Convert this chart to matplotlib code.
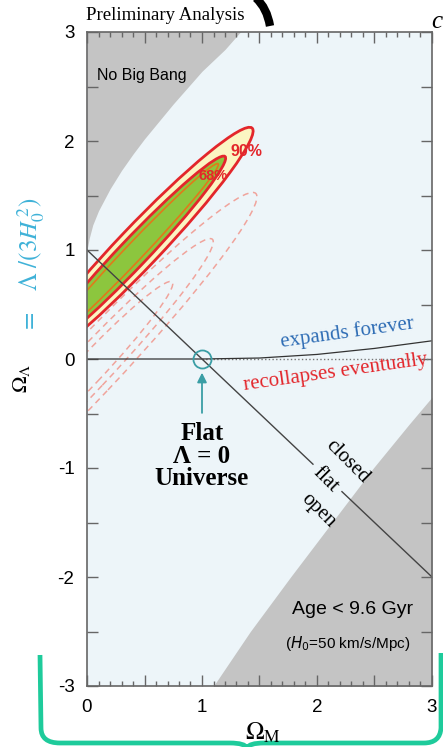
import numpy as np
import matplotlib.pyplot as plt
from matplotlib.patches import Ellipse, PathPatch
from matplotlib.path import Path
from matplotlib.ticker import MultipleLocator, FuncFormatter

plt.rcParams['axes.unicode_minus'] = False
plt.rcParams['mathtext.fontset'] = 'stix'
plt.rcParams['font.family'] = ['Liberation Sans', 'DejaVu Sans']

W, H = 443, 747

# ---------------- data ----------------
# "No Big Bang" boundary (Omega_M, Omega_Lambda)
nobigbang_x = [0.0, 0.02, 0.05, 0.1, 0.2, 0.3, 0.4, 0.5, 0.75, 1.0, 1.2, 1.35]
nobigbang_y = [1.0, 1.11, 1.23, 1.36, 1.56, 1.73, 1.88, 2.02, 2.34, 2.64, 2.84, 3.02]

# "Age < 9.6 Gyr" boundary
age_x = [1.10, 1.42, 1.77, 2.13, 2.49, 2.80, 3.0]
age_y = [-3.0, -2.5, -2.0, -1.5, -1.0, -0.6, -0.35]

# expands forever / recollapses boundary
expand_x = [0.0, 1.0, 1.5, 2.0, 2.5, 3.0]
expand_y = [0.0, 0.0, 0.009, 0.042, 0.097, 0.167]

# flat universe line (with a gap for the labels)
flat_x1 = [0.0, 1.965]
flat_y1 = [1.0, -0.965]
flat_x2 = [2.217, 3.0]
flat_y2 = [-1.217, -2.0]

# solid confidence regions (90%, 68%, inner line): centre, length, thickness
solid_cx = [0.45, 0.40, 0.40]
solid_cy = [1.025, 0.969, 0.969]
solid_len = [2.944, 2.392, 2.212]
solid_wid = [0.369, 0.251, 0.159]
solid_angle = 48.0

# dashed confidence regions
dash_cx = [0.0, 0.0, 0.0]
dash_cy = [-0.12, -0.12, -0.12]
dash_len = [4.40, 3.27, 2.22]
dash_wid = [0.49, 0.36, 0.25]
dash_angle = 48.2

flat_point = (1.0, 0.0)

# ---------------- colours ----------------
bg = '#edf5f9'
grey = '#c4c4c4'
red = '#e3262b'
cream = '#fbf5c2'
green = '#8cc63e'
orange = '#e07a1a'
pink = '#f0a49c'
teal = '#3a9ea5'
blue = '#2f6db5'
cyan = '#3fb2d8'
brace_col = '#1ecb9b'
serif = ['Liberation Serif', 'DejaVu Serif']

fig = plt.figure(figsize=(W / 100, H / 100), dpi=100)
ax = fig.add_axes([87 / W, 1 - 686 / H, 345 / W, 654 / H])
ax.set_xlim(0, 3)
ax.set_ylim(-3, 3)
ax.set_facecolor(bg)

# grey excluded regions
ax.fill_between(nobigbang_x, nobigbang_y, 3.5, color=grey, lw=0, zorder=1)
ax.fill_between(age_x, age_y, -3.5, color=grey, lw=0, zorder=1)

# dashed contours
for cx, cy, ln, wd in zip(dash_cx, dash_cy, dash_len, dash_wid):
    e = Ellipse((cx, cy), ln, wd, angle=dash_angle, fill=False, ec=pink,
                lw=1.1, ls=(0, (4, 3)), zorder=2)
    ax.add_patch(e)

# solid contours
e90 = Ellipse((solid_cx[0], solid_cy[0]), solid_len[0], solid_wid[0], angle=solid_angle,
              fc=cream, ec=red, lw=2.0, zorder=3)
e68 = Ellipse((solid_cx[1], solid_cy[1]), solid_len[1], solid_wid[1], angle=solid_angle,
              fc=green, ec=red, lw=2.0, zorder=4)
ein = Ellipse((solid_cx[2], solid_cy[2]), solid_len[2], solid_wid[2], angle=solid_angle,
              fill=False, ec=orange, lw=1.2, zorder=5)
for p in (e90, e68, ein):
    ax.add_patch(p)

# lines
ax.plot([expand_x[1], expand_x[-1]], [0, 0], color='#777', lw=1.0, ls=':', zorder=6)
ax.plot(expand_x, expand_y, color='#333', lw=0.9, zorder=6)
ax.plot(flat_x1, flat_y1, color='#444', lw=1.0, zorder=6)
ax.plot(flat_x2, flat_y2, color='#444', lw=1.0, zorder=6)

ax.plot([flat_point[0]], [flat_point[1]], 'o', mfc='none', mec=teal, ms=13, mew=1.3, zorder=7)
ax.annotate('', xy=(flat_point[0], -0.1), xytext=(flat_point[0], -0.52),
            arrowprops=dict(arrowstyle='-|>', color=teal, lw=1.3, mutation_scale=14), zorder=7)

# texts inside
ax.text(0.087, 2.6, 'No Big Bang', fontsize=11.5, ha='left', va='center', zorder=8)
ax.text(1.39, 1.90, '90%', color=red, fontsize=11.5, fontweight='bold', ha='center', va='center', zorder=8)
ax.text(1.10, 1.68, '68%', color=red, fontsize=10.5, fontweight='bold', ha='center', va='center', zorder=8)
ax.text(2.26, 0.24, 'expands forever', color=blue, fontsize=15, family=serif,
        rotation=8, ha='center', va='center', zorder=8)
ax.text(2.16, -0.13, 'recollapses eventually', color=red, fontsize=15, family=serif,
        rotation=8, ha='center', va='center', zorder=8)
ax.text(1.0, -0.89, 'Flat\nΛ = 0\nUniverse', fontsize=18, family=serif, fontweight='bold',
        ha='center', va='center', linespacing=0.95, zorder=8)
ax.text(2.26, -0.945, 'closed', fontsize=15, family=serif, rotation=-45, ha='center', va='center', zorder=8)
ax.text(2.07, -1.11, 'flat', fontsize=15, family=serif, rotation=-45, ha='center', va='center', zorder=8)
ax.text(2.01, -1.39, 'open', fontsize=15, family=serif, rotation=-45, ha='center', va='center', zorder=8)
ax.text(2.31, -2.30, 'Age < 9.6 Gyr', fontsize=14, ha='center', va='center', zorder=8)
ax.text(2.27, -2.61, '($H_0$=50 km/s/Mpc)', fontsize=11, ha='center', va='center',
        math_fontfamily='dejavusans', zorder=8)

# ticks
ax.xaxis.set_major_locator(MultipleLocator(0.5))
ax.xaxis.set_minor_locator(MultipleLocator(0.1))
ax.yaxis.set_major_locator(MultipleLocator(0.5))
intfmt = FuncFormatter(lambda v, p: '%d' % round(v) if abs(v - round(v)) < 1e-6 else '')
ax.xaxis.set_major_formatter(intfmt)
ax.yaxis.set_major_formatter(intfmt)
ax.tick_params(which='both', direction='in', top=True, right=True, color='#666', width=1.0)
ax.tick_params(which='major', length=8, labelsize=13.5, pad=9)
ax.tick_params(which='minor', length=3.5)
for s in ax.spines.values():
    s.set_color('#666')
    s.set_linewidth(1.2)
    s.set_zorder(9)


def fpos(px, py):
    return px / W, 1 - py / H


# labels outside the axes
fig.text(*fpos(263, 733), r'$\Omega_{\rm M}$', fontsize=18, ha='center', va='center')
fig.text(*fpos(22, 378), r'$\Omega_\Lambda$', fontsize=16, rotation=90, ha='center', va='center')
fig.text(*fpos(31, 265), r'$=\ \ \ \Lambda\ /(3H_0^{\,2})$', fontsize=18, color=cyan,
         rotation=90, ha='center', va='center')
fig.text(*fpos(165, 15), 'Preliminary Analysis', fontsize=13.5, family=serif, ha='center', va='center')
fig.text(*fpos(437, 22), 'c', fontsize=18, family=serif, style='italic', ha='center', va='center')

# bracket and arc decorations (figure pixels)
brace_pts = [(40, 655), (41, 728), (41, 743), (60, 743), (230, 743), (245, 743), (247, 748),
             (249, 743), (264, 743), (424, 743), (440, 743), (441, 728), (441, 653)]
brace_codes = [Path.MOVETO, Path.LINETO, Path.CURVE3, Path.CURVE3, Path.LINETO, Path.CURVE3,
               Path.CURVE3, Path.CURVE3, Path.CURVE3, Path.LINETO, Path.CURVE3, Path.CURVE3, Path.LINETO]
brace = Path([fpos(*p) for p in brace_pts], brace_codes)
fig.patches.append(PathPatch(brace, transform=fig.transFigure, fill=False, ec=brace_col, lw=3.4,
                             capstyle='butt', joinstyle='round'))
arc = Path([fpos(256, -2), fpos(267, 8), fpos(270, 26)], [Path.MOVETO, Path.CURVE3, Path.CURVE3])
fig.patches.append(PathPatch(arc, transform=fig.transFigure, fill=False, ec='black', lw=6,
                             capstyle='butt'))

fig.savefig('out.png', dpi=100)
